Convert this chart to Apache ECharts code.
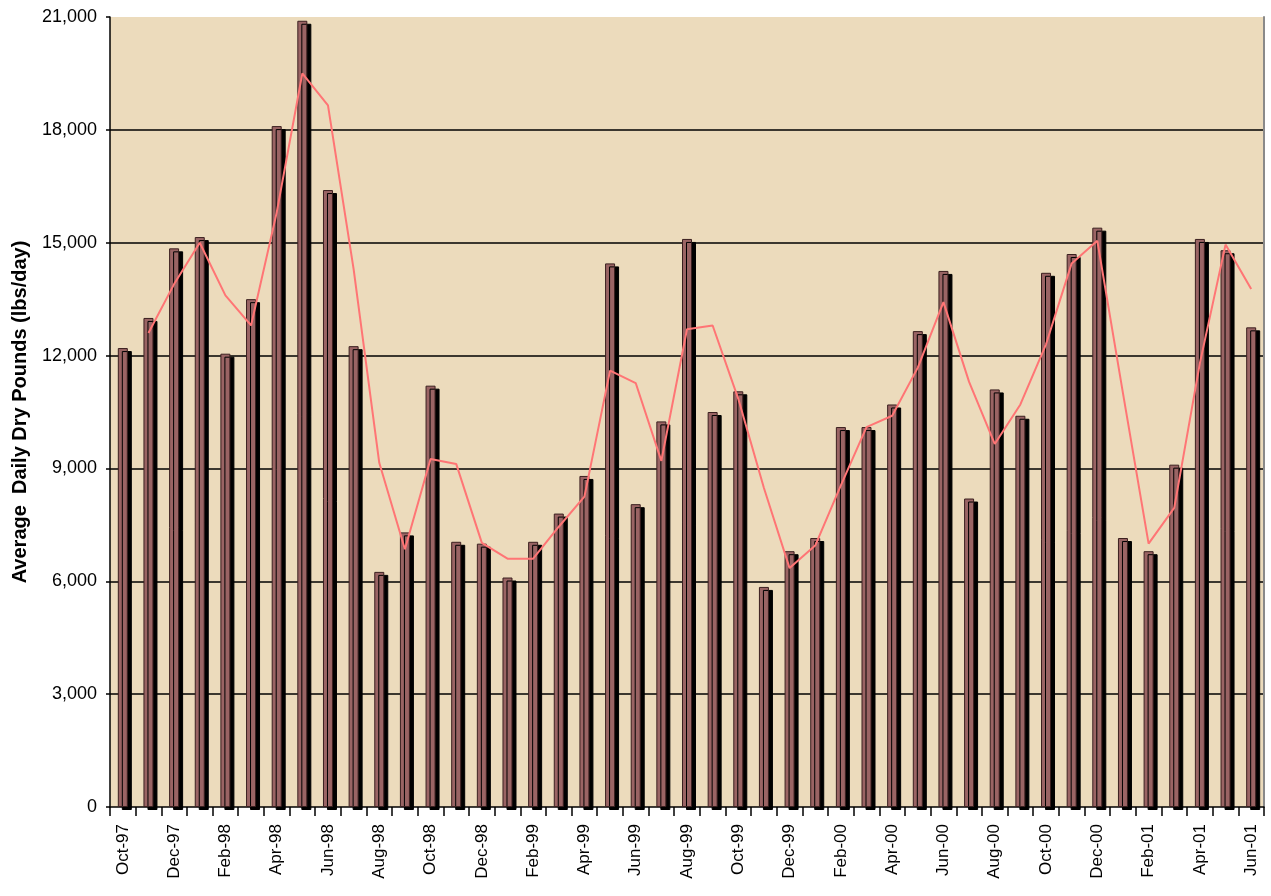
<!DOCTYPE html>
<html>
<head>
<meta charset="utf-8">
<style>
html,body{margin:0;padding:0;background:#fff;}
#chart{width:1271px;height:896px;}
</style>
<script src="https://cdn.jsdelivr.net/npm/echarts@6/dist/echarts.min.js"></script>
</head>
<body>
<div id="chart"></div>
<script>
var months = ['Oct-97','Nov-97','Dec-97','Jan-98','Feb-98','Mar-98','Apr-98','May-98','Jun-98','Jul-98','Aug-98','Sep-98',
  'Oct-98','Nov-98','Dec-98','Jan-99','Feb-99','Mar-99','Apr-99','May-99','Jun-99','Jul-99','Aug-99','Sep-99',
  'Oct-99','Nov-99','Dec-99','Jan-00','Feb-00','Mar-00','Apr-00','May-00','Jun-00','Jul-00','Aug-00','Sep-00',
  'Oct-00','Nov-00','Dec-00','Jan-01','Feb-01','Mar-01','Apr-01','May-01','Jun-01'];

var dryPounds = [12200,13000,14850,15150,12050,13500,18100,20900,16400,12250,6250,7300,
  11200,7050,7000,6100,7050,7800,8800,14450,8050,10250,15100,10500,
  11050,5850,6800,7150,10100,10100,10700,12650,14250,8200,11100,10400,
  14200,14700,15400,7150,6800,9100,15100,14800,12750];

var movingAvg = [null,12600,13900,15000,13600,12800,15800,19500,18650,14300,9150,6850,
  9250,9120,7020,6600,6600,7450,8250,11600,11270,9200,12700,12800,
  10850,8480,6350,6950,8550,10100,10400,11680,13420,11300,9650,10700,
  12300,14450,15050,11000,7000,7950,11800,14950,13770];

var yTicks = [0,3000,6000,9000,12000,15000,18000,21000];

var font = '"Liberation Sans", Arial, sans-serif';
var chart = echarts.init(document.getElementById('chart'));
chart.setOption({
  animation: false,
  backgroundColor: '#ffffff',
  grid: {left: 110, right: 7, top: 17, bottom: 89, show: true, backgroundColor: '#ECDBBC', borderWidth: 0},
  xAxis: {
    type: 'category',
    data: months,
    boundaryGap: true,
    axisLine: {lineStyle: {color: '#000', width: 1.5}},
    axisTick: {show: true, interval: 0, length: 9, lineStyle: {color: '#000', width: 1.5}},
    axisLabel: {interval: 1, rotate: 90, margin: 17, color: '#000', fontSize: 17, fontFamily: font}
  },
  yAxis: [{
    type: 'value',
    min: yTicks[0],
    max: yTicks[yTicks.length - 1],
    interval: 3000,
    name: 'Average  Daily Dry Pounds (lbs/day)',
    nameLocation: 'middle',
    nameRotate: 90,
    nameGap: 80,
    nameTextStyle: {color: '#000', fontSize: 20, fontWeight: 'bold', fontFamily: font},
    axisLine: {show: true, lineStyle: {color: '#000', width: 1.5}},
    axisTick: {show: true, length: 4, lineStyle: {color: '#000', width: 1.5}},
    axisLabel: {margin: 13, color: '#000', fontSize: 18, fontFamily: font,
      formatter: function (v) { return v === 0 ? '0' : v.toLocaleString('en-US'); }},
    splitLine: {show: true, showMinLine: false, showMaxLine: false, lineStyle: {color: '#000', width: 1.5}}
  }, {
    type: 'value',
    position: 'right',
    min: yTicks[0],
    max: yTicks[yTicks.length - 1],
    interval: 3000,
    axisLine: {show: true, lineStyle: {color: '#8a8a8a', width: 2}},
    axisTick: {show: false},
    axisLabel: {show: false},
    splitLine: {show: false}
  }],
  series: [{
    type: 'bar',
    data: dryPounds,
    barWidth: 10,
    itemStyle: {
      color: '#9A6464',
      borderColor: '#3a1f1f',
      borderWidth: 1,
      shadowColor: '#000',
      shadowBlur: 0,
      shadowOffsetX: 4,
      shadowOffsetY: 3
    },
    z: 2
  }, {
    type: 'line',
    data: movingAvg,
    symbol: 'none',
    smooth: false,
    connectNulls: false,
    lineStyle: {color: '#FF7575', width: 2},
    z: 3
  }]
});
</script>
</body>
</html>
